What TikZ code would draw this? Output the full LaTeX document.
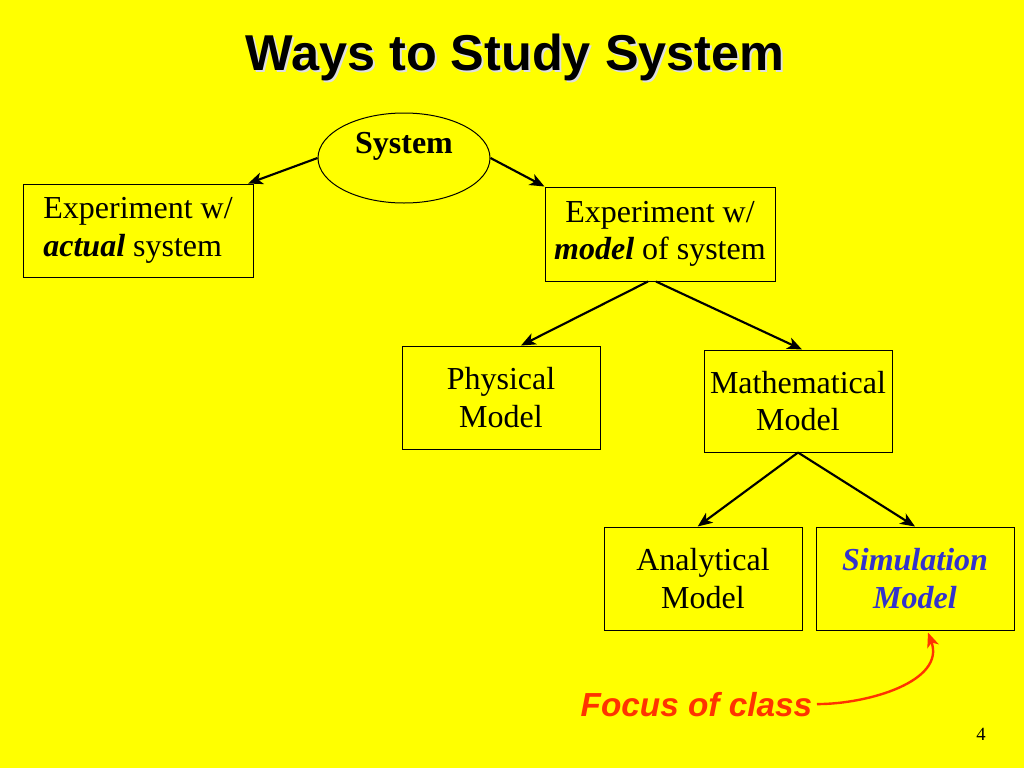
\documentclass[tikz,border=0pt]{standalone}
\usepackage{fontspec}
\setmainfont{Liberation Serif}
\newfontfamily\headfont{Liberation Sans}
\usetikzlibrary{arrows.meta,shapes.geometric}

\definecolor{slideyellow}{RGB}{255,255,0}
\definecolor{focusred}{RGB}{255,51,0}
\definecolor{simblue}{RGB}{51,51,204}

\begin{document}
\begin{tikzpicture}[x=0.75pt,y=-0.75pt,>={Stealth[length=11pt,width=9pt,inset=3pt]},
    box/.style={draw,line width=0.75pt,align=center,inner sep=0pt,
                font=\fontsize{24}{28}\selectfont},
    titlefont/.style={font=\headfont\bfseries\fontsize{37.8}{40}\selectfont},
    link/.style={->,line width=1.6pt}]

                \fill[slideyellow] (0,0) rectangle (1024,768);

                \node[titlefont,text=white!75!gray,anchor=base] (shadow) at (517,72) {Ways to Study System};
                \node[titlefont,anchor=base] (title) at (515,70) {Ways to Study System};

                \node[draw,ellipse,line width=0.75pt,minimum width=129pt,minimum height=67.5pt] (sys) at (404,158) {};
                \node[font=\fontsize{24}{28}\selectfont\bfseries] (systxt) at (404,146) {System};

                \node[box,align=left,minimum width=172.5pt,minimum height=69.75pt] (act) at (138,230.5) {Experiment w/\\\textbf{\textit{actual}} system};
                \node[box,minimum width=172.5pt,minimum height=70.5pt] (mod) at (660,234) {Experiment w/\\\textbf{\textit{model}} of system};
                \node[box,minimum width=148.5pt,minimum height=77.25pt] (phy) at (501,397.5) {Physical\\Model};
                \node[box,minimum width=141pt,minimum height=76.5pt] (math) at (798,401) {Mathematical\\Model};
                \node[box,minimum width=148.5pt,minimum height=77.25pt] (ana) at (703,578.5) {Analytical\\Model};
                \node[box,minimum width=148.5pt,minimum height=77.25pt,text=simblue,font=\fontsize{24}{28}\selectfont\bfseries\itshape] (sim) at (915,578.5) {Simulation\\Model};

                \node[font=\headfont\bfseries\itshape\fontsize{25}{28}\selectfont,text=focusred,anchor=base west] (focus) at (576,716) {Focus of class};
                \node[font=\fontsize{14}{16}\selectfont] (pnum) at (981,734) {4};

                \path[link] (sys.west) edge ([xshift=-4pt]act.north east)
                            (sys.east) edge (mod.north west)
                            ([xshift=-9pt]mod.south) edge ([xshift=15pt]phy.north)
                            ([xshift=-3pt]mod.south) edge ([xshift=3pt]math.north)
                            (math.south) edge ([xshift=-4pt]ana.north)
                            (math.south) edge (sim.north);

                \draw[->,focusred,line width=1.8pt] (focus.east) to[out=0,in=-70] ([xshift=9.75pt,yshift=-1.5pt]sim.south);

            \end{tikzpicture}
\end{document}
